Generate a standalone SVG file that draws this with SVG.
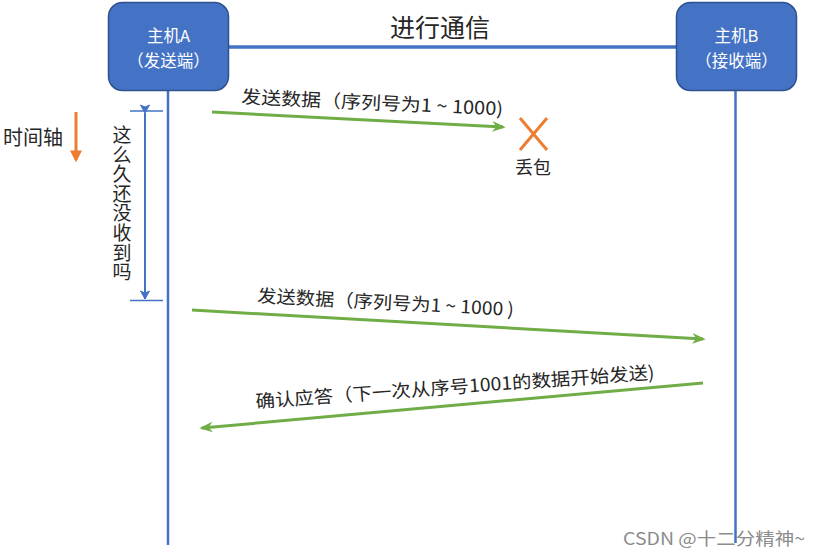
<svg xmlns="http://www.w3.org/2000/svg" width="820" height="557" viewBox="0 0 820 557">
<style>
text{font-family:"Noto Sans CJK SC","Noto Sans",sans-serif;fill:#262626}
.host rect{fill:#4472C4;stroke:#2F528F;stroke-width:1.5}
.host text{fill:#fff;font-size:16.5px;text-anchor:middle}
.life{stroke:#4472C4;stroke-width:2.5;fill:none}
.msg{stroke:#70AD47;stroke-width:3;fill:none;marker-end:url(#ga)}
.lbl{font-size:18px}
</style>
<defs>
<marker id="ga" viewBox="0 0 10 10" refX="8" refY="5" markerWidth="4.5" markerHeight="4.5" orient="auto" markerUnits="strokeWidth"><path d="M0,1 L10,5 L0,9 L3,5 Z" fill="#70AD47"/></marker>
<marker id="ba" viewBox="0 0 10 10" refX="9" refY="5" markerWidth="5" markerHeight="5" orient="auto" markerUnits="strokeWidth"><path d="M1,0.5 L9,5 L1,9.5 L3,5 Z" fill="#4472C4" stroke="#4472C4" stroke-width="1"/></marker>
<marker id="oa" viewBox="0 0 10 10" refX="8" refY="5" markerWidth="4" markerHeight="4" orient="auto" markerUnits="strokeWidth"><path d="M0,0 L10,5 L0,10 Z" fill="#ED7D31"/></marker>
</defs>
<rect width="820" height="557" fill="#fff"/>
<g id="connectors">
<line x1="229" y1="47" x2="676" y2="47" stroke="#4472C4" stroke-width="3.5"/>
<line class="life" x1="168" y1="91" x2="168" y2="545"/>
<line class="life" x1="735.5" y1="91" x2="735.5" y2="543"/>
<line class="msg" x1="212" y1="112" x2="503" y2="127"/>
<line class="msg" x1="192" y1="310" x2="703" y2="339"/>
<line class="msg" x1="703" y1="383" x2="202" y2="428"/>
</g>
<g id="hostA" class="host">
<rect x="108.5" y="2.5" width="120" height="88" rx="14"/>
<text x="168.5" y="42">主机A</text>
<text x="168.5" y="67">（发送端）</text>
</g>
<g id="hostB" class="host">
<rect x="676.5" y="2.5" width="120" height="88" rx="14"/>
<text x="736.5" y="42">主机B</text>
<text x="736.5" y="67">（接收端）</text>
</g>
<g id="title">
<text x="440" y="37" font-size="25" text-anchor="middle">进行通信</text>
</g>
<g id="timeaxis">
<text x="3" y="145" font-size="20">时间轴</text>
<line x1="76" y1="112" x2="76" y2="160" stroke="#ED7D31" stroke-width="3" marker-end="url(#oa)"/>
</g>
<g id="timeout">
<line x1="130" y1="111" x2="163" y2="111" stroke="#4472C4" stroke-width="1.3"/>
<line x1="130" y1="300.5" x2="163" y2="300.5" stroke="#4472C4" stroke-width="1.3"/>
<line x1="145" y1="113" x2="145" y2="299" stroke="#4472C4" stroke-width="2" marker-start="url(#ba)" marker-end="url(#ba)"/>
<text font-size="19" text-anchor="middle" x="122 122 122 122 122 122 122 122" y="142 161.6 181.2 200.8 220.4 240 259.6 279.2">这么久还没收到吗</text>
</g>
<g id="msg1">
<text class="lbl" x="241" y="103" transform="rotate(2.7 241 103)" textLength="262" lengthAdjust="spacingAndGlyphs">发送数据（序列号为1 ~ 1000)</text>
</g>
<g id="loss">
<path d="M520,118 L547,150 M547,118 L520,150" stroke="#ED7D31" stroke-width="3" fill="none"/>
<text x="533" y="174" font-size="18" text-anchor="middle">丢包</text>
</g>
<g id="msg2">
<text class="lbl" x="257" y="302" transform="rotate(3.1 257 302)" textLength="257" lengthAdjust="spacingAndGlyphs">发送数据（序列号为1 ~ 1000 )</text>
</g>
<g id="ack">
<text class="lbl" x="256" y="408" transform="rotate(-4.2 256 408)" textLength="400" lengthAdjust="spacingAndGlyphs">确认应答（下一次从序号1001的数据开始发送)</text>
</g>
<g id="watermark">
<text x="623" y="545" font-size="17" style="fill:#8c8c8c" textLength="182" lengthAdjust="spacingAndGlyphs">CSDN @十二分精神~</text>
</g>
</svg>
